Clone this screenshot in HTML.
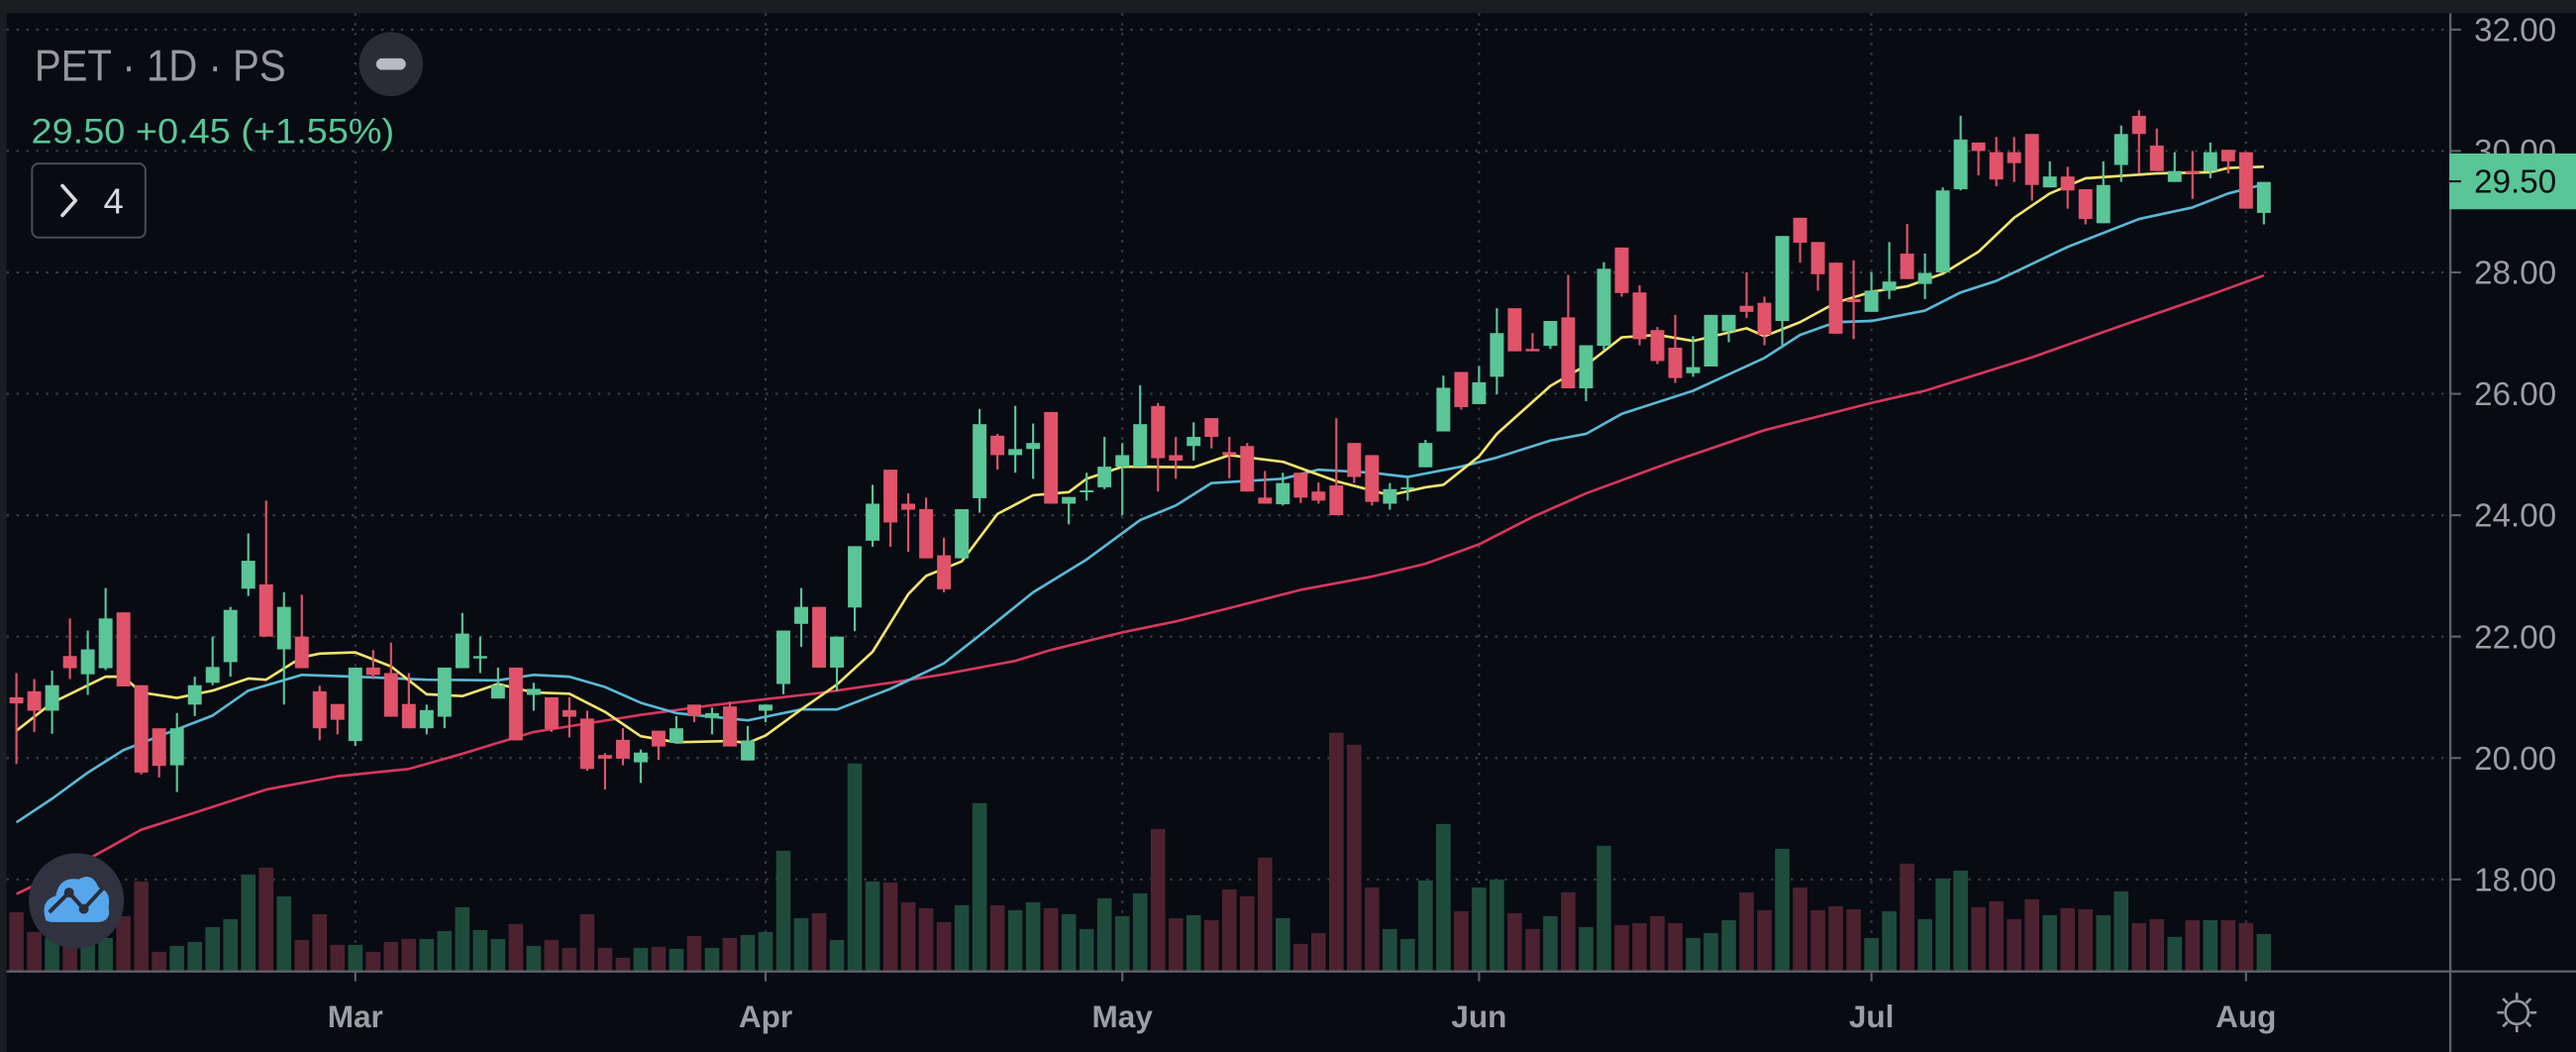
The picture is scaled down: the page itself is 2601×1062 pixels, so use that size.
<!DOCTYPE html>
<html><head><meta charset="utf-8"><style>
html,body{margin:0;padding:0;background:#080b12;}
svg{display:block;}
text{font-family:"Liberation Sans","DejaVu Sans",sans-serif;}
</style></head><body>
<svg id="chart" width="2601" height="1062" viewBox="0 0 1568 640" preserveAspectRatio="none" xmlns="http://www.w3.org/2000/svg">
<rect x="0" y="0" width="1568" height="640" fill="#080b12"/>
<rect x="0" y="0" width="1568" height="8" fill="#1c1d20"/>
<rect x="0" y="0" width="4" height="640" fill="#1c1d20"/>
<g id="grid"></g>
<g id="volumes"></g>
<g id="mas"></g>
<g id="candles"></g>
<g id="axes"></g>
<g>
<text x="21" y="49" font-size="27" fill="#9598a1" textLength="153" lengthAdjust="spacingAndGlyphs">PET · 1D · PS</text>
<text x="19" y="87" font-size="21" fill="#5ac597" textLength="221" lengthAdjust="spacingAndGlyphs">29.50  +0.45 (+1.55%)</text>
<g><circle cx="238" cy="39" r="19.5" fill="#2a2d36"/><rect x="229" y="35.5" width="18" height="7" rx="3.5" fill="#b8bbc4"/></g>
<g><rect x="19.5" y="99.5" width="69" height="45" rx="4" fill="#080b12" stroke="#4a4d56" stroke-width="1.2"/>
<path d="M38 113 L46 122 L38 131" fill="none" stroke="#d8dae0" stroke-width="2.2" stroke-linecap="round" stroke-linejoin="round"/>
<text x="63" y="130" font-size="22" fill="#d8dae0">4</text></g>
</g>
<g><circle cx="46.5" cy="548" r="29" fill="#30333f"/>
<path d="M28 560 Q24 548 34 545 Q36 533 48 535 Q56 530 60 540 Q68 542 66 552 Q68 560 60 561 L31 561 Z" fill="#57a6ec"/>
<path d="M30 555 L42 543 L51 553 L63 540" fill="none" stroke="#2a2d3a" stroke-width="2.4"/>
<circle cx="42" cy="543" r="3" fill="#2a2d3a"/><circle cx="51" cy="553" r="3" fill="#2a2d3a"/></g>
<g stroke="#9598a1" stroke-width="1.6" fill="none">
<circle cx="1532" cy="616" r="7"/>
<path d="M1532 604v4M1532 624v4M1520 616h4M1540 616h4M1523.5 607.5l2.8 2.8M1537.7 621.7l2.8 2.8M1523.5 624.5l2.8-2.8M1537.7 610.3l2.8-2.8"/></g>
</svg>
<script>
const opens=[21.0,21.1,20.78,21.68,21.38,21.48,22.4,21.2,20.49,19.88,20.88,21.24,21.58,22.79,22.86,21.79,22.0,21.1,20.89,20.28,21.49,21.4,20.89,20.49,20.68,21.48,21.64,20.98,21.49,21.04,21.0,20.79,20.65,20.05,20.3,19.93,20.45,20.25,20.88,20.66,20.85,19.96,20.78,21.22,22.21,22.49,21.49,22.48,23.58,24.75,24.19,24.1,23.34,23.29,24.28,25.31,24.99,25.09,25.7,24.19,24.38,24.46,24.8,24.8,25.8,24.99,25.14,25.6,25.04,25.14,24.29,24.18,24.7,24.39,24.49,25.19,24.99,24.19,24.43,24.79,25.38,26.36,25.83,26.28,27.41,26.74,26.79,27.26,26.09,26.79,28.41,27.67,27.05,26.76,26.34,26.45,27.03,27.45,27.5,27.2,28.9,28.5,28.16,27.56,27.35,27.7,28.31,27.81,28.0,29.37,30.14,29.98,29.98,30.28,29.4,29.58,29.37,28.81,29.77,30.58,30.09,29.49,29.67,29.67,30.02,29.98,28.98];
const highs=[21.4,21.3,21.44,22.3,22.1,22.8,22.4,21.2,20.49,20.74,21.34,22.0,22.49,23.7,24.24,22.73,22.69,21.19,20.89,21.49,21.78,21.9,21.4,20.88,21.49,22.39,22.0,21.49,21.49,21.24,21.0,21.0,20.78,20.08,20.49,20.14,20.45,20.69,20.88,20.83,20.93,20.53,20.88,22.1,22.8,22.49,22.0,23.49,24.5,24.75,24.36,24.29,23.63,24.1,25.75,25.34,25.8,25.51,25.7,24.3,24.7,25.29,25.19,26.14,25.85,25.29,25.53,25.6,25.29,25.19,24.73,24.7,24.7,24.54,25.6,25.19,24.99,24.53,24.65,25.24,26.3,26.36,26.46,27.41,27.41,27.0,27.2,27.96,26.8,28.17,28.41,27.79,27.1,27.3,26.95,27.3,27.3,28.0,27.6,28.6,28.9,28.5,28.16,28.2,28.0,28.5,28.8,28.31,29.4,30.58,30.14,30.23,30.23,30.28,29.83,29.74,29.37,29.83,30.42,30.67,30.37,29.98,30.0,30.14,30.02,29.98,29.49];
const lows=[19.9,20.43,20.4,21.3,21.04,21.45,21.18,19.73,19.68,19.44,20.69,21.2,21.34,22.67,22.0,20.88,21.48,20.29,20.39,20.2,21.3,20.68,20.49,20.39,20.49,21.48,21.4,20.98,20.29,20.78,20.43,20.34,19.79,19.48,19.88,19.59,19.97,20.25,20.59,20.39,20.19,19.96,20.59,21.05,21.83,21.49,21.1,22.09,23.48,23.48,23.4,23.29,22.73,23.29,24.04,24.75,24.7,24.6,24.19,23.85,24.24,24.43,24.0,24.8,24.39,24.6,24.9,25.1,24.61,24.39,24.19,24.16,24.2,24.19,24.0,24.53,24.16,24.09,24.24,24.79,25.38,25.74,25.83,25.99,26.7,26.7,26.74,26.09,25.88,26.72,27.6,26.8,26.49,26.18,26.28,26.45,26.85,27.25,26.8,26.8,28.16,27.7,26.99,26.9,27.35,27.56,27.89,27.56,28.0,29.35,29.6,29.42,29.49,29.18,29.4,29.05,28.79,28.81,29.49,29.63,29.67,29.49,29.21,29.55,29.63,29.05,28.79];
const closes=[20.9,20.78,21.2,21.48,21.79,22.3,21.18,19.76,19.87,20.49,21.2,21.5,22.44,23.25,22.0,22.49,21.48,20.49,20.63,21.49,21.37,20.68,20.49,20.79,21.49,22.05,21.68,21.2,20.29,21.14,20.48,20.68,19.82,19.99,19.99,20.09,20.19,20.49,20.69,20.74,20.19,20.29,20.88,22.1,22.49,21.49,22.0,23.49,24.19,23.88,24.09,23.29,22.78,24.1,25.5,24.99,25.09,25.19,24.19,24.3,24.41,24.8,24.99,25.5,24.94,24.9,25.29,25.29,24.99,24.39,24.19,24.53,24.29,24.24,24.0,24.63,24.22,24.43,24.46,25.19,26.1,25.78,26.19,27.0,26.7,26.7,27.2,26.09,26.8,28.06,27.66,26.9,26.54,26.26,26.44,27.3,27.3,27.35,26.97,28.6,28.49,27.97,26.99,27.51,27.7,27.85,27.89,27.99,29.35,30.19,30.0,29.53,29.8,29.44,29.58,29.35,28.88,29.44,30.28,30.28,29.67,29.67,29.63,29.98,29.83,29.05,29.49];
const volumes=[59,39,33,30,30,33,55,90,19,25,29,44,52,97,104,75,31,57,26,26,19,29,32,32,40,64,41,32,47,25,31,23,57,23,13,23,24,22,35,23,33,36,39,121,53,58,31,209,90,89,69,63,49,66,169,66,61,69,63,57,42,73,55,78,143,53,56,51,82,75,114,53,27,38,240,228,84,42,32,91,148,60,84,92,58,42,55,79,44,126,46,48,55,48,33,38,51,79,61,123,84,61,65,62,33,60,108,52,93,101,64,70,52,72,56,63,62,56,80,48,52,34,51,51,51,48,37];
const fastMaIdx=[1,3,6,7,8,10,12,14,15,17,18,20,22,24,26,28,30,32,34,36,38,41,42,43,45,47,49,51,52,54,56,58,60,61,63,67,69,72,75,78,80,81,83,84,87,89,91,93,95,98,99,101,103,105,107,109,111,113,115,117,121,124,125,127];
const fastMaVal=[20.45,20.91,21.34,21.34,21.08,20.99,21.11,21.31,21.29,21.66,21.72,21.74,21.51,21.05,21.02,21.22,21.08,21.06,20.76,20.36,20.26,20.28,20.25,20.37,20.8,21.21,21.75,22.7,23.0,23.24,24.02,24.33,24.38,24.6,24.8,24.79,24.99,24.88,24.56,24.33,24.46,24.5,24.97,25.34,26.13,26.47,26.93,26.97,26.87,27.08,26.95,27.18,27.5,27.68,27.77,27.98,28.34,28.9,29.3,29.55,29.63,29.65,29.72,29.74];
const midMaIdx=[1,3,5,7,9,12,14,17,20,24,28,30,32,34,36,38,42,45,47,50,53,55,58,61,64,66,68,72,74,77,79,82,84,87,89,91,95,99,101,103,105,108,110,112,116,120,123,125,127];
const midMaVal=[18.94,19.33,19.76,20.13,20.36,20.7,21.11,21.37,21.34,21.29,21.28,21.37,21.34,21.17,20.91,20.74,20.62,20.8,20.8,21.14,21.56,22.02,22.73,23.27,23.92,24.16,24.53,24.6,24.75,24.7,24.63,24.8,24.95,25.23,25.34,25.67,26.05,26.59,26.97,27.18,27.2,27.37,27.67,27.86,28.42,28.88,29.07,29.3,29.45];
const slowMaIdx=[1,5,8,11,15,19,23,26,30,36,40,46,50,53,57,59,63,66,69,73,77,80,83,86,89,94,99,105,108,114,119,124,127];
const slowMaVal=[17.76,18.33,18.82,19.1,19.48,19.7,19.82,20.07,20.43,20.71,20.87,21.07,21.24,21.38,21.6,21.78,22.07,22.25,22.47,22.77,22.99,23.2,23.52,23.97,24.36,24.9,25.4,25.85,26.05,26.6,27.12,27.63,27.95];
const priceTicks=[32,30,28,26,24,22,20,18];
const monthLabels=["Mar","Apr","May","Jun","Jul","Aug"];
const monthIdx=[20,43,63,83,105,126];
const lastPrice=29.50;

const NS="http://www.w3.org/2000/svg";
const X0=10, DX=(1378-10)/126;
function xAt(i){return X0+(i-1)*DX;}
function yAt(p){return 18+(32-p)*36.93;}
const VOL_BASE=590.5, VOL_SCALE=1/1.6588;
function vh(v){return v*VOL_SCALE;}
function mk(tag,attrs,parent){const e=document.createElementNS(NS,tag);for(const k in attrs)e.setAttribute(k,attrs[k]);parent.appendChild(e);return e;}
const grid=document.getElementById('grid'),vols=document.getElementById('volumes'),mas=document.getElementById('mas'),cg=document.getElementById('candles'),axes=document.getElementById('axes');
const GRIDC="#3a3d46";
priceTicks.forEach(p=>{const l=mk('line',{x1:4,x2:1491,y1:yAt(p),y2:yAt(p),stroke:GRIDC,'stroke-width':1.3,'stroke-dasharray':'1.5 4.5'},grid);

});
monthIdx.forEach(i=>{const l=mk('line',{x1:xAt(i),x2:xAt(i),y1:8,y2:590,stroke:GRIDC,'stroke-width':1.3,'stroke-dasharray':'1.5 4.5'},grid);

});
const BW=8.4;
volumes.forEach((v,k)=>{const up=closes[k]>=opens[k];const h=vh(v);
const r=mk('rect',{x:xAt(k+1)-4.4,y:VOL_BASE-h,width:8.8,height:h,fill:up?'#1f4b3d':'#4c2230'},vols);

});
function maLine(idx,val,color,name){const d=idx.map((i,k)=>(k?'L':'M')+xAt(i).toFixed(2)+' '+yAt(val[k]).toFixed(2)).join(' ');
const p=mk('path',{d:d,fill:'none',stroke:color,'stroke-width':1.6,'stroke-linejoin':'round'},mas);

}
maLine(slowMaIdx,slowMaVal,'#d6375f','slow-moving-average');
maLine(midMaIdx,midMaVal,'#5ab8d6','mid-moving-average');
maLine(fastMaIdx,fastMaVal,'#f3e36e','fast-moving-average');
opens.forEach((o,k)=>{const c=closes[k],up=c>=o,col=up?'#5ac597':'#e0536a',x=xAt(k+1);
const g=mk('g',{},cg);


mk('line',{x1:x,x2:x,y1:yAt(highs[k]),y2:yAt(lows[k]),stroke:col,'stroke-width':1.3},g);
const t=yAt(Math.max(o,c)),b=yAt(Math.min(o,c));
mk('rect',{x:x-BW/2,y:t,width:BW,height:Math.max(b-t,1.2),fill:col},g);});
// axes
const ax1=mk('line',{x1:1491.5,x2:1491.5,y1:8,y2:640,stroke:'#5d6068','stroke-width':1.4},axes);


const ax2=mk('line',{x1:4,x2:1568,y1:591,y2:591,stroke:'#5d6068','stroke-width':1.4},axes);


priceTicks.forEach(p=>{mk('line',{x1:1491,x2:1498,y1:yAt(p),y2:yAt(p),stroke:'#5d6068','stroke-width':1.3},axes);
const t=mk('text',{x:1506,y:yAt(p)+7,'font-size':20,fill:'#9a9da6'},axes);t.textContent=p.toFixed(2);

});
monthIdx.forEach((i,k)=>{mk('line',{x1:xAt(i),x2:xAt(i),y1:591,y2:597,stroke:'#5d6068','stroke-width':1.3},axes);
const t=mk('text',{x:xAt(i),y:625,'font-size':19,fill:'#9a9da6','text-anchor':'middle','font-weight':'bold'},axes);t.textContent=monthLabels[k];

});
const ly=yAt(lastPrice);
const lb=mk('rect',{x:1491,y:ly-17,width:77,height:34,fill:'#5ac597'},axes);


mk('line',{x1:1491,x2:1498,y1:ly,y2:ly,stroke:'#0b0e14','stroke-width':1.3},axes);
const lt=mk('text',{x:1506,y:ly+7,'font-size':20,fill:'#0b0e14'},axes);lt.textContent=lastPrice.toFixed(2);


</script>
</body></html>
